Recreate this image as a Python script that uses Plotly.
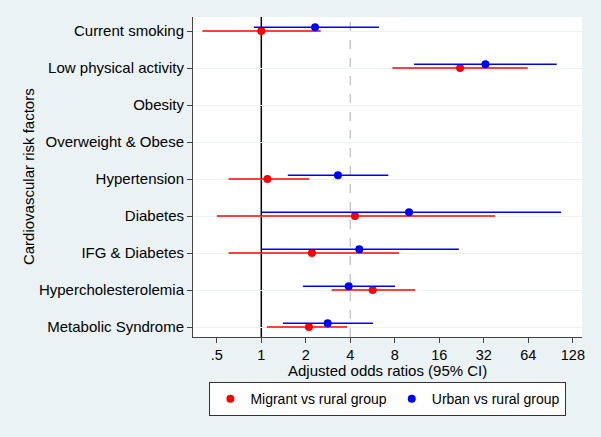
import plotly.graph_objects as go

categories = ["Current smoking", "Low physical activity", "Obesity", "Overweight & Obese",
              "Hypertension", "Diabetes", "IFG & Diabetes", "Hypercholesterolemia",
              "Metabolic Syndrome"]

# Migrant vs rural group
mig_or = [1.00, 22.1, None, None, 1.10, 4.30, 2.20, 5.67, 2.10]
mig_lo = [0.40, 7.7, None, None, 0.60, 0.50, 0.60, 2.99, 1.09]
mig_hi = [2.52, 63.4, None, None, 2.11, 38.3, 8.54, 11.0, 3.80]

# Urban vs rural group
urb_or = [2.31, 32.8, None, None, 3.30, 9.98, 4.60, 3.90, 2.81]
urb_lo = [0.89, 10.8, None, None, 1.51, 1.00, 1.00, 1.91, 1.40]
urb_hi = [6.25, 99.6, None, None, 7.23, 106.5, 21.7, 8.02, 5.70]

tick_vals = [0.5, 1, 2, 4, 8, 16, 32, 64, 128]
tick_text = [".5", "1", "2", "4", "8", "16", "32", "64", "128"]

FONT = "Liberation Sans, Arial, sans-serif"
FS = 15

def err(orv, lo, hi):
    plus = [None if o is None else h - o for o, h in zip(orv, hi)]
    minus = [None if o is None else o - l for o, l in zip(orv, lo)]
    return plus, minus

ypos = list(range(len(categories)))
ypos_urb = [y - 0.1 for y in ypos]

fig = go.Figure()

mp, mm = err(mig_or, mig_lo, mig_hi)
up, um = err(urb_or, urb_lo, urb_hi)

fig.add_trace(go.Scatter(
    x=mig_or, y=ypos, mode="markers", name="Migrant vs rural group",
    marker=dict(color="#FF0000", size=8),
    error_x=dict(type="data", symmetric=False, array=mp, arrayminus=mm,
                 color="#FF0000", thickness=1.5, width=0),
))
fig.add_trace(go.Scatter(
    x=urb_or, y=ypos_urb, mode="markers", name="Urban vs rural group",
    marker=dict(color="#0000FF", size=8),
    error_x=dict(type="data", symmetric=False, array=up, arrayminus=um,
                 color="#0000FF", thickness=1.5, width=0),
))

fig.add_vline(x=1, line=dict(color="black", width=1.5), layer="below")
fig.add_vline(x=4, line=dict(color="#C8C8C8", width=1.5, dash="dash"), layer="below")

fig.update_layout(
    width=601, height=437,
    margin=dict(l=193, r=19, t=17, b=100),
    paper_bgcolor="#EAF2F3", plot_bgcolor="white",
    font=dict(family=FONT, size=FS, color="black"),
    showlegend=True,
    legend=dict(orientation="h", x=0.501, xanchor="center", y=-0.194, yanchor="middle",
                bgcolor="white", bordercolor="#333333", borderwidth=1,
                font=dict(size=14), itemwidth=30),
    xaxis=dict(type="log", range=[-0.462, 2.169], tickvals=tick_vals, ticktext=tick_text,
               showgrid=False, zeroline=False, showline=True, linecolor="#444444",
               ticks="outside", ticklen=5, tickcolor="#444444", tickfont=dict(size=14.5)),
    yaxis=dict(range=[8.27, -0.38], tickvals=ypos, ticktext=categories,
               showgrid=True, gridcolor="#EEF2F2", gridwidth=1, zeroline=False,
               showline=True, linecolor="#444444", ticks="outside", ticklen=5,
               tickcolor="#444444", tickfont=dict(size=FS)),
    annotations=[
        dict(text="Adjusted odds ratios (95% CI)", xref="paper", yref="paper",
             x=0.5, y=-0.106, xanchor="center", yanchor="middle", showarrow=False,
             font=dict(size=FS)),
        dict(text="Cardiovascular risk factors", xref="paper", yref="paper",
             x=-0.424, y=0.5, xanchor="center", yanchor="middle", textangle=-90,
             showarrow=False, font=dict(size=FS)),
    ],
)

fig.write_html("out.html", config={"displayModeBar": False},
               post_script="document.body.style.margin='0';document.body.style.padding='0';")
